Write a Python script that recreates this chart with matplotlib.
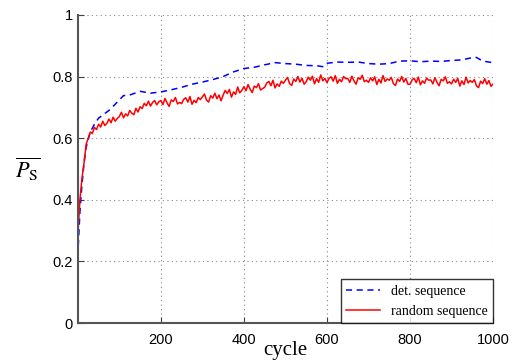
import numpy as np
import matplotlib
matplotlib.use('Agg')
import matplotlib.pyplot as plt

## data
det_cycles = [1, 5, 10, 15, 20, 30, 40, 50, 60, 75, 90, 100, 110, 125, 150, 175,
              200, 225, 250, 275, 300, 325, 350, 375, 400, 425, 450, 475, 500,
              525, 550, 575, 590, 600, 625, 650, 675, 700, 725, 750, 775, 800,
              825, 850, 875, 900, 925, 945, 960, 975, 1000]
det_values = [0.25, 0.36, 0.45, 0.52, 0.57, 0.62, 0.645, 0.665, 0.675, 0.69, 0.71,
              0.724, 0.738, 0.74, 0.752, 0.746, 0.75, 0.757, 0.765, 0.775, 0.782,
              0.79, 0.80, 0.815, 0.826, 0.83, 0.838, 0.845, 0.842, 0.84, 0.836,
              0.835, 0.832, 0.843, 0.847, 0.846, 0.847, 0.842, 0.84, 0.842, 0.85,
              0.851, 0.848, 0.85, 0.849, 0.852, 0.854, 0.86, 0.862, 0.85, 0.845]

rand_cycles = np.arange(0, 1001, 5)
rand_values = [
    0.28, 0.40, 0.47, 0.52, 0.58, 0.60, 0.62, 0.615, 0.635, 0.628,
    0.645, 0.636, 0.655, 0.641, 0.648, 0.662, 0.650, 0.668, 0.655, 0.664,
    0.670, 0.684, 0.666, 0.679, 0.672, 0.690, 0.681, 0.676, 0.697, 0.685,
    0.702, 0.696, 0.713, 0.705, 0.720, 0.704, 0.716, 0.722, 0.708, 0.718,
    0.722, 0.709, 0.729, 0.714, 0.703, 0.724, 0.719, 0.732, 0.711, 0.716,
    0.712, 0.726, 0.731, 0.717, 0.735, 0.710, 0.723, 0.715, 0.732, 0.725,
    0.734, 0.743, 0.723, 0.717, 0.738, 0.730, 0.746, 0.728, 0.740, 0.721,
    0.740, 0.755, 0.745, 0.758, 0.733, 0.750, 0.742, 0.766, 0.747, 0.755,
    0.767, 0.754, 0.774, 0.759, 0.748, 0.769, 0.764, 0.777, 0.756, 0.761,
    0.765, 0.779, 0.784, 0.770, 0.788, 0.763, 0.776, 0.768, 0.785, 0.778,
    0.788, 0.797, 0.777, 0.771, 0.792, 0.784, 0.800, 0.782, 0.794, 0.775,
    0.783, 0.798, 0.788, 0.801, 0.776, 0.793, 0.781, 0.805, 0.786, 0.794,
    0.780, 0.794, 0.799, 0.785, 0.803, 0.778, 0.791, 0.783, 0.800, 0.793,
    0.794, 0.781, 0.801, 0.786, 0.775, 0.796, 0.791, 0.804, 0.783, 0.788,
    0.781, 0.796, 0.786, 0.799, 0.774, 0.791, 0.779, 0.803, 0.784, 0.792,
    0.788, 0.797, 0.777, 0.771, 0.792, 0.784, 0.800, 0.782, 0.794, 0.775,
    0.775, 0.789, 0.794, 0.780, 0.798, 0.773, 0.786, 0.778, 0.795, 0.788,
    0.789, 0.776, 0.796, 0.781, 0.770, 0.791, 0.786, 0.799, 0.778, 0.783,
    0.776, 0.791, 0.781, 0.794, 0.769, 0.786, 0.774, 0.798, 0.779, 0.787,
    0.781, 0.790, 0.770, 0.764, 0.785, 0.777, 0.793, 0.775, 0.787, 0.768,
    0.776,
]

x_ticks = [200, 400, 600, 800, 1000]
y_ticks = [0, 0.2, 0.4, 0.6, 0.8, 1]
y_ticklabels = ['0', '0.2', '0.4', '0.6', '0.8', '1']

plt.rcParams['font.family'] = ['Liberation Sans', 'DejaVu Sans']
plt.rcParams['mathtext.fontset'] = 'stix'

fig = plt.figure(figsize=(5.12, 3.63), dpi=100)
ax = fig.add_axes([0.152, 0.110, 0.811, 0.849])

ax.plot(det_cycles, det_values, color='blue', ls=(0, (4, 3)), lw=1.1,
        label='det. sequence')
ax.plot(rand_cycles, rand_values, color='red', lw=1.1, label='random sequence')

ax.set_xlim(0, 1000)
ax.set_ylim(0, 1)
ax.set_xticks(x_ticks)
ax.set_yticks(y_ticks)
ax.set_yticklabels(y_ticklabels)
ax.tick_params(direction='in', length=4, labelsize=10.5, color='#404040')
ax.tick_params(axis='x', pad=7)
ax.grid(True, ls=(0, (1, 3)), color='#888888', lw=0.8)

for s in ['top', 'right']:
    ax.spines[s].set_visible(False)
for s in ['left', 'bottom']:
    ax.spines[s].set_color('#555555')
    ax.spines[s].set_linewidth(1.5)

ax.set_xlabel('cycle', family='Liberation Serif', fontsize=15, labelpad=-4)
ax.set_ylabel(r'$\overline{P_{\mathrm{S}}}$', fontsize=16, rotation=0,
              labelpad=18, va='center')

leg = ax.legend(loc='lower right', borderaxespad=0.0, fancybox=False,
                prop={'family': 'Liberation Serif', 'size': 10},
                handlelength=2.4, edgecolor='black')
leg.get_frame().set_linewidth(1.0)

fig.savefig('out.png', dpi=100)
